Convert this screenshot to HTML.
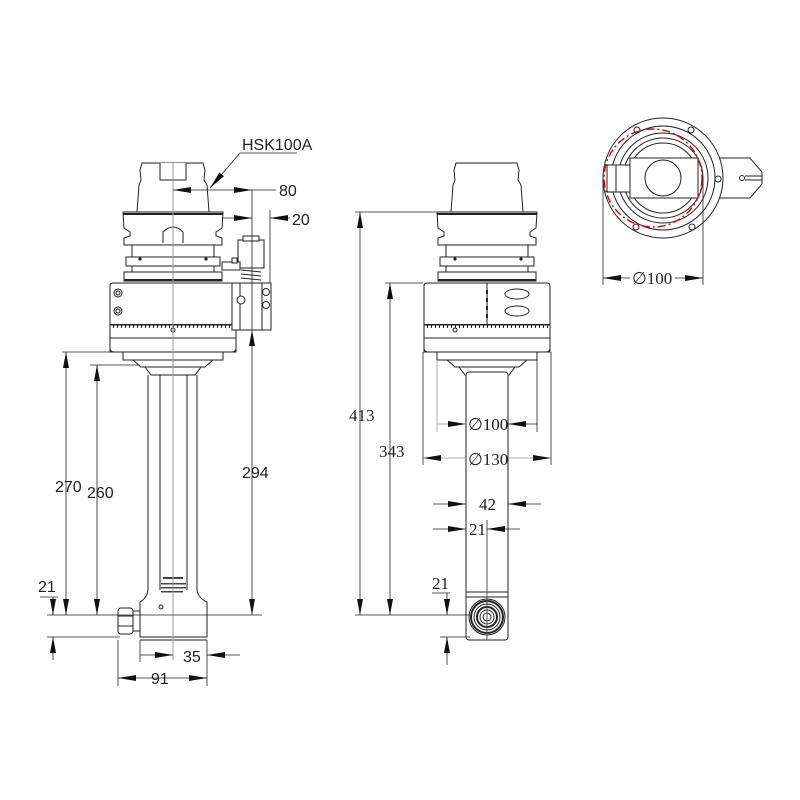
<!DOCTYPE html>
<html><head><meta charset="utf-8"><style>
html,body{margin:0;padding:0;background:#fff;}
svg{display:block;}
text{font-family:"Liberation Sans",sans-serif;font-size:16px;fill:#222;}
.s{font-family:"Liberation Serif",serif;font-size:17px;}
</style></head><body>
<svg width="800" height="800" viewBox="0 0 800 800" xmlns="http://www.w3.org/2000/svg">
<defs>
<marker id="a" viewBox="0 0 16 6" refX="16" refY="3" markerWidth="16" markerHeight="6" orient="auto-start-reverse" markerUnits="userSpaceOnUse"><path d="M0,0 L16,3 L0,6z" fill="#111"/></marker>
<marker id="b" viewBox="0 0 18 6" refX="18" refY="3" markerWidth="18" markerHeight="6" orient="auto-start-reverse" markerUnits="userSpaceOnUse"><path d="M0,0 L18,3 L0,6z" fill="#111"/></marker>
<pattern id="tk" width="4" height="9" patternUnits="userSpaceOnUse"><rect x="0" y="0" width="1" height="4" fill="#222"/><rect x="0" y="0" width="4" height="1.5" fill="#222"/></pattern>
<g id="head" fill="#fff" stroke="#222" stroke-width="1">
<path d="M-31,163 L30,163 L32,170 L31,180 L34,185 L36,212 L-36,212 L-34,185 L-32,180 L-33,170 Z"/>
<path d="M-50,212 L50,212 L49,228 L43,232 L43,236 L49,238 L49,245 L-49,245 L-49,238 L-43,236 L-43,232 L-49,228 Z"/>
<line x1="-50" y1="214" x2="50" y2="214" stroke-width="2"/>
<rect x="-41" y="245" width="82" height="12"/>
<rect x="-47" y="257" width="94" height="9"/>
<rect x="-41" y="266" width="82" height="6"/>
<rect x="-49" y="272" width="98" height="9"/>
<line x1="-49" y1="280" x2="49" y2="280" stroke-width="2"/>
<path d="M-63,352 L-63,286 Q-63,283 -60,283 L60,283 Q63,283 63,286 L63,352 Z"/>
<rect x="-63" y="324" width="126" height="9" fill="url(#tk)" stroke="none"/>
<path d="M-63,338 L63,338 L63,348 Q63,352 59,352 L-59,352 Q-63,352 -63,348 Z"/>
<path d="M-50,352 L50,352 L50,360 L-50,360 Z"/>
<path d="M-40,360 L40,360 L32,367 L-32,367 Z"/>
<path d="M-28,367 L28,367 L22,375 L-22,375 Z"/>
</g>
</defs>

<!-- LEFT VIEW -->
<use href="#head" x="173"/>
<path d="M160,163 L160,180 L186,180 L186,163" fill="#fff" stroke="#222"/>
<path d="M163,243 L163,232 Q173,222 183,232 L183,243" fill="none" stroke="#222"/>
<circle cx="118" cy="293" r="4" fill="none" stroke="#222"/><circle cx="118" cy="293" r="2" fill="none" stroke="#222"/>
<circle cx="118" cy="311" r="4" fill="none" stroke="#222"/><circle cx="118" cy="311" r="2" fill="none" stroke="#222"/>
<circle cx="173" cy="330" r="2" fill="none" stroke="#222"/>
<circle cx="140" cy="259" r="1.6" fill="#222"/><circle cx="206" cy="259" r="1.6" fill="#222"/>
<rect x="232" y="283" width="39" height="47" fill="#fff" stroke="#222"/>
<line x1="240" y1="283" x2="240" y2="330" stroke="#222"/>
<line x1="262" y1="283" x2="262" y2="330" stroke="#222"/>
<circle cx="241" cy="300" r="4" fill="#fff" stroke="#222"/>
<circle cx="266" cy="292" r="3.5" fill="none" stroke="#222"/><circle cx="266" cy="305" r="3.5" fill="none" stroke="#222"/>
<rect x="238" y="240" width="26" height="28" fill="#fff" stroke="#222"/>
<rect x="243" y="236" width="16" height="5" fill="#fff" stroke="#222"/>
<path d="M241,270 L261,272 M241,274 L261,276 M241,278 L261,280" stroke="#222"/>
<rect x="222" y="262" width="18" height="8" fill="#fff" stroke="#222"/>
<rect x="232" y="258" width="5" height="5" fill="#fff" stroke="#222"/>
<line x1="148" y1="375" x2="148" y2="590" stroke="#222"/>
<line x1="197" y1="375" x2="197" y2="590" stroke="#222"/>
<line x1="160" y1="375" x2="160" y2="590" stroke="#222"/>
<line x1="187" y1="375" x2="187" y2="590" stroke="#222"/>
<path d="M148,590 Q147,598 140,602 L140,637 L207,637 L207,602 Q198,598 197,590" fill="#fff" stroke="#222"/>
<line x1="140" y1="640" x2="207" y2="640" stroke="#222"/>
<circle cx="161" cy="607" r="2" fill="none" stroke="#222"/>
<rect x="118" y="608" width="15" height="26" rx="3" fill="#fff" stroke="#222"/>
<line x1="118" y1="616" x2="133" y2="616" stroke="#222"/><line x1="118" y1="626" x2="133" y2="626" stroke="#222"/>
<rect x="133" y="611" width="7" height="20" fill="#fff" stroke="#222"/>
<rect x="163" y="577" width="20" height="2" fill="#444"/><rect x="161" y="583" width="25" height="1.5" fill="#444"/><rect x="161" y="587" width="25" height="1.5" fill="#444"/><rect x="161" y="591" width="22" height="1.5" fill="#444"/>
<line x1="173" y1="163" x2="173" y2="660" stroke="#999"/>
<g stroke="#222" stroke-width="0.8" fill="none">
<line x1="62" y1="352" x2="125" y2="352"/>
<line x1="90" y1="365" x2="140" y2="365"/>
<line x1="47" y1="615" x2="262" y2="615"/>
<line x1="47" y1="637" x2="120" y2="637"/>
<line x1="66" y1="352" x2="66" y2="615" marker-start="url(#a)" marker-end="url(#a)"/>
<line x1="97" y1="365" x2="97" y2="615" marker-start="url(#a)" marker-end="url(#a)"/>
<line x1="252" y1="330" x2="252" y2="615" marker-start="url(#a)" marker-end="url(#a)"/>
<line x1="252" y1="190" x2="252" y2="330"/>
<line x1="270" y1="210" x2="270" y2="283"/>
<line x1="53" y1="597" x2="53" y2="615" marker-end="url(#a)"/>
<line x1="53" y1="660" x2="53" y2="637" marker-end="url(#a)"/>
<line x1="40" y1="597" x2="58" y2="597"/>
<line x1="173" y1="190" x2="252" y2="190" marker-start="url(#b)" marker-end="url(#b)"/>
<line x1="252" y1="190" x2="276" y2="190"/>
<line x1="222" y1="218" x2="252" y2="218" marker-end="url(#b)"/>
<line x1="290" y1="218" x2="270" y2="218" marker-end="url(#b)"/>
<line x1="240" y1="153" x2="297" y2="153"/>
<line x1="240" y1="153" x2="210" y2="188" marker-end="url(#b)"/>
<line x1="118" y1="640" x2="118" y2="686"/>
<line x1="207" y1="640" x2="207" y2="686"/>
<line x1="140" y1="640" x2="140" y2="662"/>
<line x1="140" y1="655" x2="173" y2="655" marker-end="url(#b)"/>
<line x1="240" y1="655" x2="207" y2="655" marker-end="url(#b)"/>
<line x1="118" y1="678" x2="207" y2="678" marker-start="url(#b)" marker-end="url(#b)"/>
</g>
<text x="242" y="150">HSK100A</text>
<text x="279" y="196">80</text>
<text x="292" y="225">20</text>
<text x="55" y="492">270</text>
<text x="87" y="498">260</text>
<text x="242" y="478">294</text>
<text x="38" y="592">21</text>
<text x="183" y="662">35</text>
<text x="151" y="684">91</text>

<!-- MIDDLE VIEW -->
<use href="#head" x="487"/>
<line x1="487" y1="283" x2="487" y2="324" stroke="#222"/>
<path d="M487,290 v4 M487,298 v4 M487,306 v4 M487,314 v4" stroke="#222" stroke-width="2"/>
<ellipse cx="517" cy="294" rx="12" ry="5" fill="none" stroke="#222"/>
<ellipse cx="517" cy="311" rx="12" ry="5" fill="none" stroke="#222"/>
<circle cx="455" cy="330" r="2" fill="none" stroke="#222"/>
<circle cx="455" cy="259" r="1.6" fill="#222"/><circle cx="521" cy="259" r="1.6" fill="#222"/>
<rect x="466" y="372" width="42" height="268" rx="3" fill="#fff" stroke="#222"/>
<line x1="466" y1="592" x2="508" y2="592" stroke="#222"/>
<line x1="466" y1="597" x2="508" y2="597" stroke="#222"/>
<g fill="none" stroke="#222"><circle cx="487" cy="617" r="18"/><circle cx="487" cy="617" r="16" stroke-width="2"/><circle cx="487" cy="617" r="13"/><circle cx="487" cy="617" r="10" stroke-width="2"/><circle cx="487" cy="617" r="7"/><circle cx="487" cy="617" r="4"/></g>
<line x1="487" y1="520" x2="487" y2="640" stroke="#555"/>
<g stroke="#222" stroke-width="0.8" fill="none">
<line x1="355" y1="212" x2="445" y2="212"/>
<line x1="385" y1="283" x2="423" y2="283"/>
<line x1="355" y1="615" x2="470" y2="615"/>
<line x1="440" y1="637" x2="470" y2="637"/>
<line x1="360" y1="212" x2="360" y2="615" marker-start="url(#a)" marker-end="url(#a)"/>
<line x1="390" y1="283" x2="390" y2="615" marker-start="url(#a)" marker-end="url(#a)"/>
<line x1="447" y1="593" x2="447" y2="615" marker-end="url(#a)"/>
<line x1="447" y1="665" x2="447" y2="637" marker-end="url(#a)"/>
<line x1="432" y1="593" x2="450" y2="593"/>
<line x1="437" y1="360" x2="437" y2="432" stroke="#999"/>
<line x1="537" y1="360" x2="537" y2="432" stroke="#222"/>
<line x1="423" y1="352" x2="423" y2="465" stroke="#222"/>
<line x1="551" y1="352" x2="551" y2="465" stroke="#222"/>
<line x1="437" y1="424" x2="466" y2="424" stroke="#999" marker-end="url(#b)"/>
<line x1="508" y1="424" x2="537" y2="424" marker-start="url(#b)"/>
<line x1="423" y1="458" x2="466" y2="458" stroke="#999" marker-start="url(#b)"/>
<line x1="508" y1="458" x2="551" y2="458" stroke="#999" marker-end="url(#b)"/>
<line x1="433" y1="504" x2="466" y2="504" marker-end="url(#b)"/>
<line x1="541" y1="504" x2="508" y2="504" marker-end="url(#b)"/>
<line x1="433" y1="529" x2="466" y2="529" marker-end="url(#b)"/>
<line x1="520" y1="529" x2="487" y2="529" marker-end="url(#b)"/>
</g>
<text x="349" y="421" class="s">413</text>
<text x="379" y="457" class="s">343</text>
<text x="468" y="430" class="s">∅100</text>
<text x="468" y="465" class="s">∅130</text>
<text x="479" y="510" class="s">42</text>
<text x="469" y="535" class="s">21</text>
<text x="432" y="589" class="s">21</text>

<!-- RIGHT VIEW -->
<g fill="none" stroke="#222">
<path d="M718,158 L750,158 L762,172 L762,184 L750,198 L718,198"/>
<circle cx="663" cy="178" r="60" fill="#fff"/>
<circle cx="663" cy="178" r="52"/>
<circle cx="663" cy="178" r="45"/>
<circle cx="663" cy="178" r="40"/>
<circle cx="663" cy="178" r="35"/>
<rect x="630" y="158" width="68" height="40" fill="#fff"/>
<circle cx="663" cy="178" r="18"/>
<rect x="607" y="165" width="23" height="27" fill="#fff"/>
<line x1="616" y1="165" x2="616" y2="192"/>
<circle cx="742" cy="178" r="2.5"/>
<line x1="745" y1="176" x2="762" y2="176"/><line x1="745" y1="180" x2="762" y2="180"/>
<circle cx="691" cy="130" r="3"/><circle cx="718" cy="179" r="3"/><circle cx="692" cy="227" r="3"/><circle cx="636" cy="227" r="3"/><circle cx="637" cy="130" r="3"/>
</g>
<circle cx="653" cy="178" r="49" fill="none" stroke="#d00" stroke-width="1.4" stroke-dasharray="8,3,2,3"/>
<g stroke="#222" stroke-width="0.8" fill="none">
<line x1="603" y1="180" x2="603" y2="285"/>
<line x1="703" y1="178" x2="703" y2="285"/>
<line x1="603" y1="278" x2="703" y2="278" marker-start="url(#b)" marker-end="url(#b)"/>
</g>
<rect x="630" y="268" width="45" height="18" fill="#fff"/>
<text x="632" y="284" class="s">∅100</text>
</svg>
</body></html>
